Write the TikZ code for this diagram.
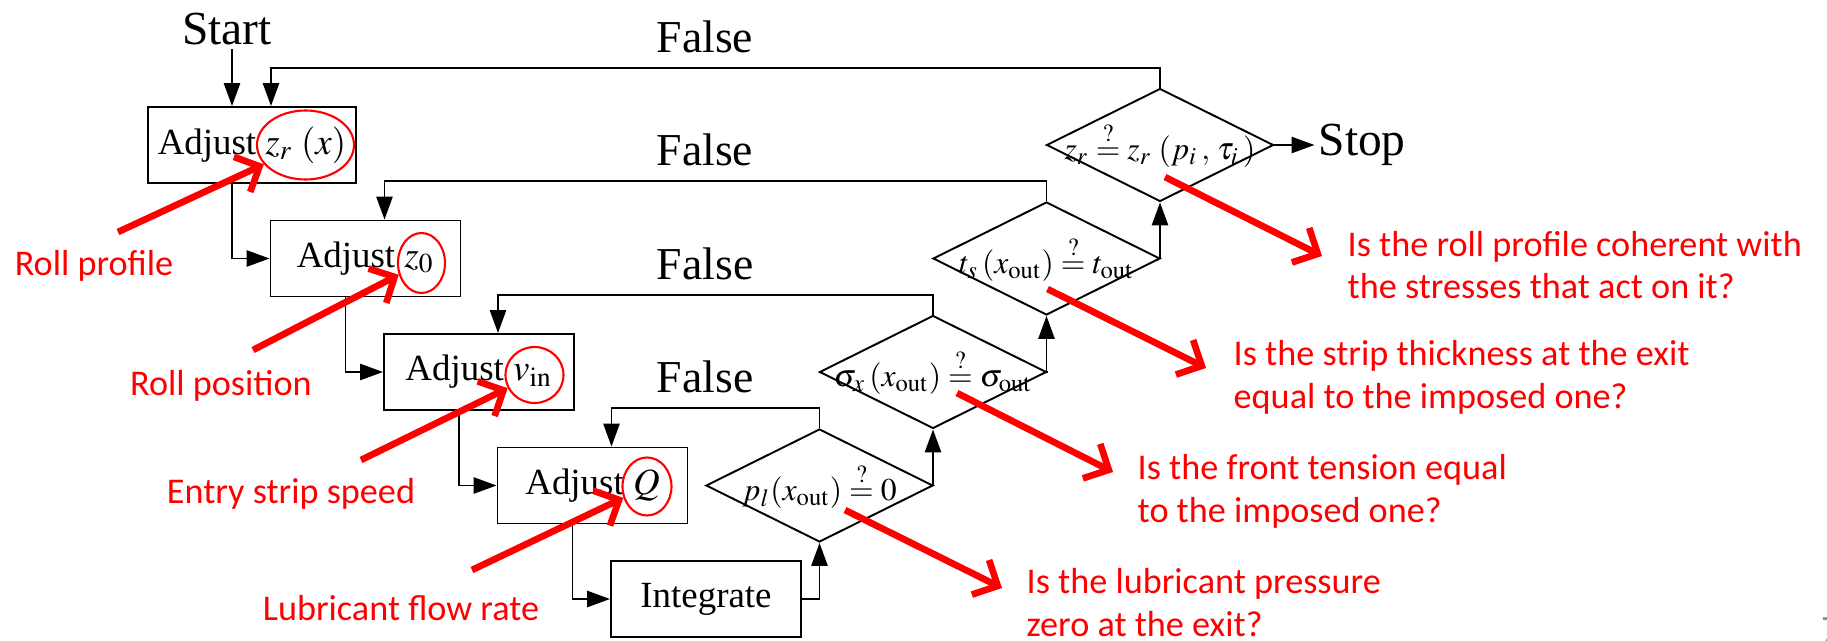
\documentclass[tikz,border=0pt]{standalone}
\usepackage{mathptmx}
\usepackage{fontspec}
\setmainfont{Liberation Serif}
\newfontfamily\notefont{Carlito}
\usepackage{tikz}
\usetikzlibrary{
  shapes.geometric,
  arrows.meta,
  positioning
}
\definecolor{notered}{RGB}{255, 0, 0}
\definecolor{pagegray}{RGB}{140, 140, 140}
\newcommand{\qeq}{\stackrel{?}{=}}
\tikzset{
  adjbox/.style = {
    rectangle, draw=black, line width=0.55pt,
    minimum width=#1, minimum height=0.76cm,
    inner sep=2pt, font=\fontsize{10.5}{12}\selectfont
  },
  adjbox/.default = 1.9cm,
  testbox/.style = {
    diamond, draw=black, line width=0.55pt,
    minimum width=2.27cm, minimum height=1.13cm,
    inner sep=0pt, font=\fontsize{9}{11}\selectfont
  },
  ring/.style 2 args = {
    ellipse, draw=notered, line width=0.6pt,
    minimum width=#1, minimum height=#2, inner sep=0pt
  },
  term/.style = {font=\fontsize{13.5}{16}\selectfont, inner sep=1pt},
  flab/.style = {font=\fontsize{13}{15}\selectfont, above, inner sep=4pt},
  note/.style = {
    text=notered, align=left, inner sep=0pt,
    font=\notefont\fontsize{10.3}{12.2}\selectfont
  },
  arr/.style    = {-{Triangle[length=6.5pt, width=4.6pt]}, line width=0.55pt},
  redarr/.style = {-{Straight Barb[length=5.5pt, width=11pt]}, draw=notered,
                   line width=1.9pt},
}

\begin{document}
\begin{tikzpicture}[node distance=1.135cm and 1.135cm, on grid]
  \useasboundingbox (0,0) rectangle (18.27,6.40);

  % Adjust chain
  \node[adjbox=2.08cm] (adj1) at (2.52,4.95) {Adjust $z_r\;(x)$};
  \node[adjbox, below right=of adj1] (adj2) {Adjust $z_0$};
  \node[adjbox, below right=of adj2] (adj3) {Adjust $v_\mathrm{in}$};
  \node[adjbox, below right=of adj3] (adj4) {Adjust $Q$};
  \node[adjbox, below right=of adj4] (integ) {Integrate};

  % Tests
  \node[testbox, above right=of integ] (pl)
    {\makebox[0pt]{$p_l(x_\mathrm{out}) \qeq 0$}};
  \node[testbox, above right=of pl] (sig)
    {\makebox[0pt]{$\sigma_x\,(x_\mathrm{out}) \qeq \sigma_\mathrm{out}$}};
  \node[testbox, above right=of sig] (ts)
    {\makebox[0pt]{$t_s\,(x_\mathrm{out}) \qeq t_\mathrm{out}$}};
  \node[testbox, above right=of ts] (zr)
    {\makebox[0pt]{$z_r \qeq z_r\;(p_i\,,\,\tau_i\,)$}};

  \node[term, anchor=base] (start) at (2.27,5.955) {Start};
  \node[term, on grid=false, right=0.4cm of zr] (stop) {Stop};

  % Arrows
  \draw[arr] ([xshift=-0.2cm]adj1.north |- start.south)
    -- ([xshift=-0.2cm]adj1.north);
  \draw[arr] ([xshift=-0.2cm]adj1.south) |- (adj2.west);
  \draw[arr] ([xshift=-0.2cm]adj2.south) |- (adj3.west);
  \draw[arr] ([xshift=-0.2cm]adj3.south) |- (adj4.west);
  \draw[arr] ([xshift=-0.2cm]adj4.south) |- (integ.west);
  \draw[arr] (integ.east) -| (pl.south);
  \draw[arr] (pl.east) -| (sig.south);
  \draw[arr] (sig.east) -| (ts.south);
  \draw[arr] (ts.east) -| (zr.south);
  \draw[arr] (zr.east) -- (stop.west);

  % False loops
  \draw[arr] (zr.north) -- ++(0,0.2)
    -| node[flab, pos=0.256]{False} ([xshift=0.19cm]adj1.north);
  \draw[arr] (ts.north) -- ++(0,0.2)
    -| node[flab, pos=0.258]{False} ([xshift=0.19cm]adj2.north);
  \draw[arr] (sig.north) -- ++(0,0.2)
    -| node[flab, pos=0.262]{False} ([xshift=0.19cm]adj3.north);
  \draw[arr] (pl.north) -- ++(0,0.2)
    -| node[flab, pos=0.275]{False} ([xshift=0.19cm]adj4.north);

  % Red marks
  \node[ring={0.97cm}{0.69cm}] (ring1) at ([xshift=0.535cm]adj1.center) {};
  \node[ring={0.47cm}{0.60cm}] (ring2) at ([shift={(0.56,-0.045)}]adj2.center) {};
  \node[ring={0.58cm}{0.56cm}] (ring3) at ([shift={(0.555,-0.03)}]adj3.center) {};
  \node[ring={0.49cm}{0.58cm}] (ring4) at ([shift={(0.545,-0.01)}]adj4.center) {};

  \node[note, anchor=base] (rprof) at (0.94,3.65) {Roll profile};
  \node[note, anchor=base] (rpos) at (2.21,2.45) {Roll position};
  \node[note, anchor=base] (vspeed) at (2.91,1.37) {Entry strip speed};
  \node[note, anchor=base] (qrate) at (4.01,0.20) {Lubricant flow rate};

  \node[note, anchor=west] (q1) at (13.47,3.75)
    {Is the roll profile coherent with\\the stresses that act on it?};
  \node[note, anchor=west] (q2) at (12.33,2.63)
    {Is the strip thickness at the exit\\equal to the imposed one?};
  \node[note, anchor=west] (q3) at (11.37,1.49)
    {Is the front tension equal\\to the imposed one?};
  \node[note, anchor=west] (q4) at (10.26,0.375)
    {Is the lubricant pressure\\zero at the exit?};

  \node[anchor=north west, inner sep=0pt, text=pagegray,
        font=\notefont\fontsize{11}{13}\selectfont] (pnum) at (18.21,0.23) {7};

  \draw[redarr] ([shift={(0.24,0.43)}]rprof.base) -- (ring1);
  \draw[redarr] ([shift={(0.32,0.45)}]rpos.base) -- (ring2);
  \draw[redarr] ([shift={(0.70,0.43)}]vspeed.base) -- (ring3);
  \draw[redarr] ([shift={(0.71,0.50)}]qrate.base) -- (ring4);

  \draw[redarr] ([shift={(0.05,-0.32)}]zr.center) -- ([shift={(-0.25,0.09)}]q1.west);
  \draw[redarr] ([shift={(0.01,-0.305)}]ts.center) -- ([shift={(-0.27,0.09)}]q2.west);
  \draw[redarr] ([shift={(0.24,-0.21)}]sig.center) -- ([shift={(-0.24,0.19)}]q3.west);
  \draw[redarr] ([shift={(0.255,-0.245)}]pl.center) -- ([shift={(-0.24,0.145)}]q4.west);
\end{tikzpicture}
\end{document}
